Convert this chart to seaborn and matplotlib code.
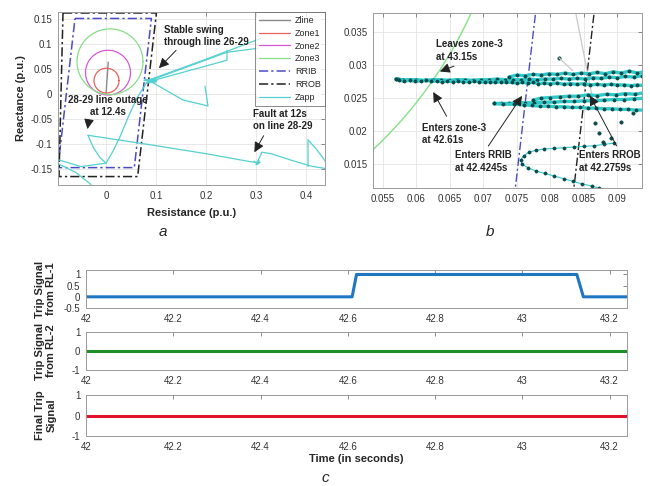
import numpy as np
import pandas as pd
import matplotlib
matplotlib.use("Agg")
import matplotlib.pyplot as plt
import seaborn as sns

# ---------------- data ----------------
# panel a : relay characteristics (R, X in p.u.)
zline_r = [0.0, 0.0045]
zline_x = [0.0, 0.064]
zone_names = ["Zone1", "Zone2", "Zone3"]
zone_cr = [0.001, 0.004, 0.008]      # centre R
zone_cx = [0.027, 0.043, 0.065]      # centre X
zone_rad = [0.025, 0.045, 0.066]     # radius
rrib_r = [-0.062, 0.0908, 0.0566, -0.0962, -0.062]
rrib_x = [0.152, 0.152, -0.148, -0.148, 0.152]
rrob_r = [-0.086, 0.1008, 0.0633, -0.094, -0.086]
rrob_x = [0.163, 0.163, -0.166, -0.166, 0.163]

# apparent impedance trajectory (segments)
zapp_a = {
    1: ([-0.096, -0.060, -0.030], [-0.140, -0.158, -0.182]),
    2: ([-0.096, -0.050, 0.000], [-0.132, -0.146, -0.139]),
    3: ([-0.036, -0.025, -0.012, 0.000, 0.014, 0.028, 0.045, 0.062, 0.082],
        [-0.083, -0.108, -0.128, -0.139, -0.115, -0.086, -0.045, -0.008, 0.024]),
    4: ([-0.036, 0.088, 0.200, 0.288, 0.302], [-0.083, -0.102, -0.120, -0.136, -0.138]),
    5: ([0.296, 0.303, 0.308, 0.300, 0.306, 0.302], [-0.135, -0.141, -0.137, -0.142, -0.134, -0.138]),
    6: ([0.302, 0.312, 0.330, 0.370, 0.410, 0.440], [-0.138, -0.117, -0.120, -0.133, -0.145, -0.150]),
    7: ([0.404, 0.404, 0.420, 0.435, 0.445], [-0.146, -0.092, -0.110, -0.130, -0.145]),
    8: ([0.078, 0.100, 0.080, 0.098, 0.076, 0.102, 0.085], [0.030, 0.024, 0.022, 0.031, 0.027, 0.027, 0.028]),
    9: ([0.085, 0.200, 0.310], [0.028, 0.070, 0.112]),
    10: ([0.090, 0.242, 0.304], [0.028, 0.084, 0.092]),
    11: ([0.090, 0.242, 0.242], [0.026, 0.068, 0.088]),
    12: ([0.090, 0.154, 0.204, 0.198], [0.025, -0.012, -0.024, 0.016]),
}

# panel b : zoomed trajectory
zb_upper_r = [0.0937, 0.0925, 0.0912, 0.0900, 0.0888, 0.0876, 0.0864, 0.0852, 0.0840, 0.0828,
              0.0816, 0.0804, 0.0792, 0.0780, 0.0768, 0.0756, 0.0744, 0.0732, 0.0720, 0.0708,
              0.0696, 0.0684, 0.0672, 0.0660, 0.0648, 0.0636, 0.0624, 0.0612, 0.0600, 0.0590,
              0.0580, 0.0572, 0.0569]
zb_upper_x = [0.0284, 0.0282, 0.0283, 0.0281, 0.0282, 0.0280, 0.0281, 0.0279, 0.0280, 0.0279,
              0.0280, 0.0279, 0.0279, 0.0278, 0.0279, 0.0278, 0.0278, 0.0278, 0.0279, 0.0278,
              0.0278, 0.0277, 0.0278, 0.0278, 0.0277, 0.0278, 0.0278, 0.0277, 0.0278, 0.0278,
              0.0278, 0.0279, 0.0279]
zb_back_r = [0.0569, 0.0574, 0.0582, 0.0590, 0.0598, 0.0606, 0.0614, 0.0622, 0.0630, 0.0638,
             0.0646, 0.0654, 0.0662, 0.0670, 0.0678, 0.0686, 0.0694, 0.0702, 0.0710, 0.0718,
             0.0726, 0.0734, 0.0742, 0.0750, 0.0758, 0.0766, 0.0774, 0.0782, 0.0790, 0.0800,
             0.0810, 0.0820, 0.0830, 0.0840, 0.0850, 0.0860, 0.0870, 0.0880, 0.0890, 0.0900,
             0.0910, 0.0920, 0.0930, 0.0940]
zb_back_x = [0.0279, 0.0277, 0.0276, 0.0277, 0.0276, 0.0276, 0.0277, 0.0276, 0.0276, 0.0275,
             0.0276, 0.0275, 0.0276, 0.0275, 0.0275, 0.0276, 0.0275, 0.0274, 0.0275, 0.0274,
             0.0275, 0.0274, 0.0274, 0.0273, 0.0274, 0.0273, 0.0274, 0.0272, 0.0273, 0.0272,
             0.0273, 0.0271, 0.0272, 0.0271, 0.0272, 0.0270, 0.0271, 0.0270, 0.0271, 0.0270,
             0.0270, 0.0269, 0.0270, 0.0269]
zb_top_r = [0.0940, 0.0930, 0.0918, 0.0906, 0.0894, 0.0882, 0.0870, 0.0858, 0.0846, 0.0834,
            0.0822, 0.0810, 0.0798, 0.0786, 0.0774, 0.0762, 0.0750, 0.0738]
zb_top_x = [0.0290, 0.0288, 0.0291, 0.0288, 0.0290, 0.0287, 0.0289, 0.0287, 0.0288, 0.0286,
            0.0288, 0.0286, 0.0287, 0.0285, 0.0286, 0.0284, 0.0285, 0.0282]
zb_low1_r = [0.0940, 0.0925, 0.0910, 0.0895, 0.0880, 0.0865, 0.0850, 0.0835, 0.0820, 0.0805,
             0.0790, 0.0775, 0.0762, 0.0750, 0.0738, 0.0726, 0.0716]
zb_low1_x = [0.0250, 0.0249, 0.0248, 0.0248, 0.0247, 0.0246, 0.0246, 0.0245, 0.0245, 0.0244,
             0.0244, 0.0243, 0.0243, 0.0243, 0.0242, 0.0242, 0.0242]
zb_low2_r = [0.0716, 0.0730, 0.0745, 0.0760, 0.0772, 0.0784, 0.0796, 0.0808, 0.0820, 0.0832,
             0.0844, 0.0856, 0.0868, 0.0880, 0.0892, 0.0904, 0.0916, 0.0928, 0.0940]
zb_low2_x = [0.0242, 0.0241, 0.0241, 0.0240, 0.0239, 0.0238, 0.0238, 0.0237, 0.0237, 0.0236,
             0.0236, 0.0235, 0.0235, 0.0234, 0.0234, 0.0233, 0.0233, 0.0232, 0.0232]
zb_low3_r = [0.0940, 0.0926, 0.0912, 0.0898, 0.0884, 0.0870, 0.0856, 0.0842, 0.0828, 0.0814,
             0.0800, 0.0786, 0.0774]
zb_low3_x = [0.0258, 0.0256, 0.0257, 0.0255, 0.0256, 0.0254, 0.0255, 0.0253, 0.0253, 0.0252,
             0.0251, 0.0250, 0.0247]
zb_c_r = [0.0895, 0.0880, 0.0865, 0.0850, 0.0835, 0.0820, 0.0805, 0.0790, 0.0778, 0.0768,
          0.0760, 0.0756, 0.0758, 0.0766, 0.0778, 0.0792, 0.0806, 0.0820, 0.0834, 0.0848,
          0.0862, 0.0872]
zb_c_x = [0.0182, 0.0180, 0.0178, 0.0177, 0.0176, 0.0175, 0.0174, 0.0173, 0.0171, 0.0168,
          0.0163, 0.0156, 0.0150, 0.0145, 0.0140, 0.0136, 0.0132, 0.0128, 0.0124, 0.0120,
          0.0117, 0.0114]
zb_misc_r = [0.0890, 0.0878, 0.0872, 0.0867, 0.0905, 0.0924]
zb_misc_x = [0.0190, 0.0183, 0.0198, 0.0212, 0.0214, 0.0227]
zb_gray1_r = [0.0838, 0.0862]
zb_gray1_x = [0.0379, 0.0255]
zb_gray2_r = [0.0813, 0.0833]
zb_gray2_x = [0.0311, 0.0292]

# panel c : trip signals
t_rl1 = [42.0, 42.61, 42.62, 43.125, 43.14, 43.24]
trip_rl1 = [0, 0, 1, 1, 0, 0]
t_rl2 = [42.0, 43.24]
trip_rl2 = [0, 0]
t_final = [42.0, 43.24]
trip_final = [0, 0]

a_xticks = [0, 0.1, 0.2, 0.3, 0.4]
a_xlabels = ["0", "0.1", "0.2", "0.3", "0.4"]
a_yticks = [-0.15, -0.1, -0.05, 0, 0.05, 0.1, 0.15]
a_ylabels = ["-0.15", "-0.1", "-0.05", "0", "0.05", "0.1", "0.15"]
b_xticks = [0.055, 0.06, 0.065, 0.07, 0.075, 0.08, 0.085, 0.09]
b_xlabels = ["0.055", "0.06", "0.065", "0.07", "0.075", "0.08", "0.085", "0.09"]
b_yticks = [0.015, 0.02, 0.025, 0.03, 0.035]
b_ylabels = ["0.015", "0.02", "0.025", "0.03", "0.035"]
c_xticks = [42, 42.2, 42.4, 42.6, 42.8, 43, 43.2]
c_xlabels = ["42", "42.2", "42.4", "42.6", "42.8", "43", "43.2"]

# ---------------- style ----------------
sns.set_theme(style="white")
plt.rcParams["font.family"] = ["Liberation Sans", "DejaVu Sans"]
W, H = 650, 486
fig = plt.figure(figsize=(6.5, 4.86), dpi=100)

FRAME = "#9a9a9a"
TICKC = "#333333"
C_ZLINE = "#8a8a8a"
C_Z1 = "#e8615a"
C_Z2 = "#d45ad4"
C_Z3 = "#86e086"
C_RRIB = "#4b4bc8"
C_RROB = "#222222"
C_ZAPP = "#55d0d0"


def add_ax(l, t, r, b):
    return fig.add_axes([l / W, 1 - b / H, (r - l) / W, (b - t) / H])


def style_ax(ax, grid=True):
    for s in ax.spines.values():
        s.set_color(FRAME)
        s.set_linewidth(0.7)
    ax.tick_params(direction="in", length=3, width=0.6, color="#777777",
                   labelsize=7, labelcolor=TICKC, top=True, right=True, pad=4)
    if grid:
        ax.grid(True, color="#e4e4e4", linewidth=0.6)
        ax.set_axisbelow(True)


dash_dot = (0, (6, 2, 1.5, 2))

# ---------------- panel a ----------------
axa = add_ax(58, 12, 325, 185)
style_ax(axa)
sns.lineplot(x=zline_r, y=zline_x, ax=axa, color=C_ZLINE, lw=1.0, sort=False,
             estimator=None, label="Zline")
theta = np.linspace(0, 2 * np.pi, 200)
for name, cr, cx, rad, col in zip(zone_names, zone_cr, zone_cx, zone_rad, [C_Z1, C_Z2, C_Z3]):
    sns.lineplot(x=cr + rad * np.cos(theta), y=cx + rad * np.sin(theta), ax=axa,
                 color=col, lw=0.9, sort=False, estimator=None, label=name)
sns.lineplot(x=rrib_r, y=rrib_x, ax=axa, color=C_RRIB, lw=1.1, sort=False,
             estimator=None, label="RRIB", linestyle=dash_dot)
sns.lineplot(x=rrob_r, y=rrob_x, ax=axa, color=C_RROB, lw=1.1, sort=False,
             estimator=None, label="RROB", linestyle=dash_dot)
rows = []
for seg, (rr, xx) in zapp_a.items():
    for r_, x_ in zip(rr, xx):
        rows.append((seg, r_, x_))
df_a = pd.DataFrame(rows, columns=["seg", "R", "X"])
first = True
for seg, g in df_a.groupby("seg", sort=False):
    sns.lineplot(data=g, x="R", y="X", ax=axa, color=C_ZAPP, lw=0.9, sort=False,
                 estimator=None, label="Zapp" if first else None)
    first = False
axa.set_xlim(-0.096, 0.438)
axa.set_ylim(-0.183, 0.165)
axa.set_xticks(a_xticks)
axa.set_xticklabels(a_xlabels)
axa.set_yticks(a_yticks)
axa.set_yticklabels(a_ylabels)
axa.set_xlabel("Resistance (p.u.)", fontsize=8, fontweight="bold", labelpad=5)
axa.set_ylabel("Reactance (p.u.)", fontsize=8, fontweight="bold", labelpad=3)
leg = axa.legend(loc="upper right", fontsize=6.5, frameon=True, fancybox=False,
                 borderaxespad=0.0, handlelength=3.4, handletextpad=0.6,
                 labelspacing=0.42, borderpad=0.45)
leg.get_frame().set_edgecolor("#555555")
leg.get_frame().set_linewidth(0.6)

akw = dict(fontsize=7, fontweight="bold", color="#222222")
arw = dict(arrowstyle="-|>,head_length=0.5,head_width=0.25", color="#222222", lw=0.7)
axa.text(0.116, 0.117, "Stable swing\nthrough line 26-29", ha="left", va="center",
         linespacing=1.3, **akw)
axa.annotate("", xy=(0.102, 0.048), xytext=(0.144, 0.092), arrowprops=arw)
axa.text(0.004, -0.024, "28-29 line outage\nat 12.4s", ha="center", va="center",
         linespacing=1.3, **akw)
axa.annotate("", xy=(-0.038, -0.076), xytext=(-0.034, -0.052), arrowprops=arw)
axa.text(0.294, -0.052, "Fault at 12s\non line 28-29", ha="left", va="center",
         linespacing=1.3, **akw)
axa.annotate("", xy=(0.294, -0.122), xytext=(0.318, -0.079), arrowprops=arw)

# ---------------- panel b ----------------
axb = add_ax(373, 13, 642, 188)
style_ax(axb)
sns.lineplot(x=zone_cr[2] + zone_rad[2] * np.cos(theta), y=zone_cx[2] + zone_rad[2] * np.sin(theta),
             ax=axb, color=C_Z3, lw=1.0, sort=False, estimator=None)
sns.lineplot(x=rrib_r[1:3], y=rrib_x[1:3], ax=axb, color=C_RRIB, lw=1.0, sort=False,
             estimator=None, linestyle=dash_dot)
sns.lineplot(x=rrob_r[1:3], y=rrob_x[1:3], ax=axb, color=C_RROB, lw=1.0, sort=False,
             estimator=None, linestyle=dash_dot)
sns.lineplot(x=zb_gray1_r, y=zb_gray1_x, ax=axb, color="#c8c8c8", lw=0.9, sort=False, estimator=None)
sns.lineplot(x=zb_gray2_r, y=zb_gray2_x, ax=axb, color="#c8c8c8", lw=0.9, sort=False, estimator=None)
mk = dict(marker="o", markersize=2.3, markerfacecolor="#0b5050", markeredgecolor="#063a3a",
          markeredgewidth=0.4)
for rr, xx in [(zb_upper_r, zb_upper_x), (zb_back_r, zb_back_x), (zb_top_r, zb_top_x),
               (zb_low1_r, zb_low1_x), (zb_low2_r, zb_low2_x), (zb_low3_r, zb_low3_x)]:
    sns.lineplot(x=rr, y=xx, ax=axb, color="#2fcaca", lw=2.4, sort=False, estimator=None, **mk)
sns.lineplot(x=zb_c_r, y=zb_c_x, ax=axb, color="#2fcaca", lw=0.8, sort=False, estimator=None, **mk)
sns.scatterplot(x=zb_misc_r + zb_gray2_r[:1], y=zb_misc_x + zb_gray2_x[:1], ax=axb,
                color="#0b5050", s=6, edgecolor="#063a3a", linewidth=0.4)
axb.set_xlim(0.0535, 0.0937)
axb.set_ylim(0.0114, 0.0379)
axb.set_xticks(b_xticks)
axb.set_xticklabels(b_xlabels)
axb.set_yticks(b_yticks)
axb.set_yticklabels(b_ylabels)
axb.text(0.0629, 0.0322, "Leaves zone-3\nat 43.15s", ha="left", va="center", linespacing=1.3, **akw)
axb.annotate("", xy=(0.0631, 0.0289), xytext=(0.0660, 0.0300), arrowprops=arw)
axb.text(0.0608, 0.0196, "Enters zone-3\nat 42.61s", ha="left", va="center", linespacing=1.3, **akw)
axb.annotate("", xy=(0.0623, 0.0263), xytext=(0.0647, 0.0219), arrowprops=arw)
axb.text(0.0658, 0.0154, "Enters RRIB\nat 42.4245s", ha="left", va="center", linespacing=1.3, **akw)
axb.annotate("", xy=(0.0760, 0.0257), xytext=(0.0705, 0.0174), arrowprops=arw)
axb.text(0.0843, 0.0154, "Enters RROB\nat 42.2759s", ha="left", va="center", linespacing=1.3, **akw)
axb.annotate("", xy=(0.0857, 0.0258), xytext=(0.0901, 0.0174), arrowprops=arw)

# ---------------- panel c ----------------
c_boxes = [(86, 270, 627, 308), (86, 332, 627, 370), (86, 395, 627, 436)]
c_data = [(t_rl1, trip_rl1, "#1f77c4", (-0.5, 1.2), [-0.5, 0, 0.5, 1], ["-0.5", "0", "0.5", "1"],
           "Trip Signal\nfrom RL-1"),
          (t_rl2, trip_rl2, "#1f8f2a", (-1, 1), [-1, 0, 1], ["-1", "0", "1"], "Trip Signal\nfrom RL-2"),
          (t_final, trip_final, "#e3122c", (-1, 1), [-1, 0, 1], ["-1", "0", "1"], "Final Trip\nSignal")]
for box, (tt, yy, col, yl, yt, ytl, lab) in zip(c_boxes, c_data):
    ax = add_ax(*box)
    style_ax(ax, grid=False)
    sns.lineplot(x=tt, y=yy, ax=ax, color=col, lw=2.2, sort=False, estimator=None)
    ax.set_xlim(42, 43.24)
    ax.set_ylim(*yl)
    ax.set_xticks(c_xticks)
    ax.set_xticklabels(c_xlabels)
    ax.set_yticks(yt)
    ax.set_yticklabels(ytl)
    ax.tick_params(axis="x", pad=4)
    ax.set_ylabel(lab, fontsize=8, fontweight="bold", linespacing=1.1)
    ax.yaxis.set_label_coords(-0.055, 0.5)
    last = ax
last.set_xlabel("Time (in seconds)", fontsize=8, fontweight="bold", labelpad=2)

fig.text(163 / W, 1 - 232 / H, "a", style="italic", fontsize=11, ha="center", va="center")
fig.text(490 / W, 1 - 232 / H, "b", style="italic", fontsize=11, ha="center", va="center")
fig.text(325 / W, 1 - 478 / H, "c", style="italic", fontsize=11, ha="center", va="center")

fig.savefig("out.png", dpi=100)
